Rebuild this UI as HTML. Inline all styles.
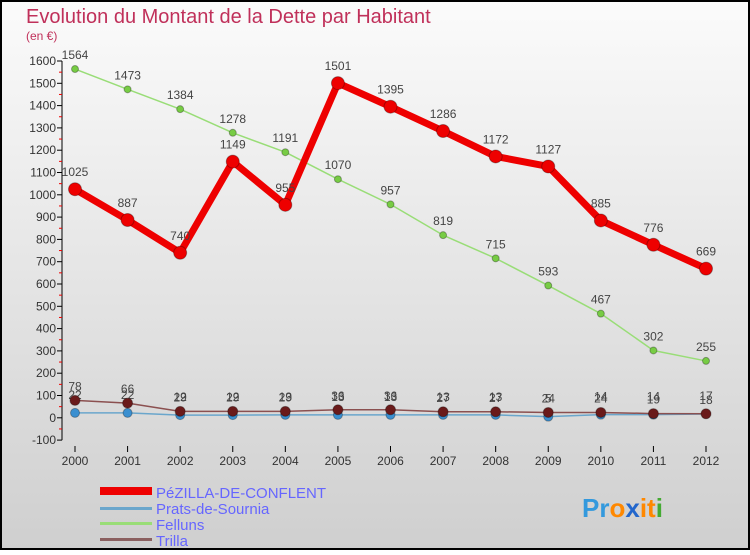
<!DOCTYPE html>
<html><head><meta charset="utf-8"><style>
body{margin:0;width:750px;height:550px;overflow:hidden;font-family:"Liberation Sans",sans-serif}
svg text{font-family:"Liberation Sans",sans-serif}
</style></head><body>
<svg id="c" width="750" height="550">
<defs><linearGradient id="bg" x1="0" y1="0" x2="0" y2="1"><stop offset="0" stop-color="#fbfbfb"/><stop offset="1" stop-color="#cfcfcf"/></linearGradient></defs>
<rect x="1" y="1" width="748" height="548" fill="url(#bg)" stroke="#000" stroke-width="2"/>
<text x="26" y="23" font-size="20" fill="#c0305a">Evolution du Montant de la Dette par Habitant</text>
<text x="26" y="40" font-size="12" fill="#c0305a">(en €)</text>
<g id="axes"></g><g id="series"></g>
<g>
<rect x="100" y="487" width="52" height="8" fill="#e00"/>
<text x="156" y="498" font-size="15" fill="#66f">PéZILLA-DE-CONFLENT</text>
<rect x="100" y="507" width="52" height="3" fill="#6aa6cc"/>
<text x="156" y="514" font-size="15" fill="#66f">Prats-de-Sournia</text>
<rect x="100" y="522" width="52" height="3" fill="#99dd77"/>
<text x="156" y="530" font-size="15" fill="#66f">Felluns</text>
<rect x="100" y="538" width="52" height="3" fill="#8b6060"/>
<text x="156" y="546" font-size="15" fill="#66f">Trilla</text>
</g>
<text x="582" y="517" font-size="26" font-weight="bold"><tspan fill="#3399dd">Pr</tspan><tspan fill="#ff8800">o</tspan><tspan fill="#2266cc">x</tspan><tspan fill="#ff8800">it</tspan><tspan fill="#44aa33">i</tspan></text>
</svg>
<script>
const years=[2000,2001,2002,2003,2004,2005,2006,2007,2008,2009,2010,2011,2012];
const pezilla=[1025,887,740,1149,955,1501,1395,1286,1172,1127,885,776,669];
const prats=[22,22,12,12,13,13,13,13,13,5,14,14,17];
const felluns=[1564,1473,1384,1278,1191,1070,957,819,715,593,467,302,255];
const trilla=[78,66,29,29,29,36,36,27,27,24,24,19,18];
const yTicks=[-100,0,100,200,300,400,500,600,700,800,900,1000,1100,1200,1300,1400,1500,1600];
const NS='http://www.w3.org/2000/svg';
const xs=i=>75+i*(706-75)/12;
const ys=v=>417.8-v*22.3/100;
function mk(tag,attrs,parent,txt){const e=document.createElementNS(NS,tag);for(const k in attrs)e.setAttribute(k,attrs[k]);if(txt!==undefined)e.textContent=txt;parent.appendChild(e);return e;}
const ax=document.getElementById('axes');
let a=mk('line',{x1:62,y1:ys(1600),x2:62,y2:ys(-100),stroke:'#000'},ax);

yTicks.forEach(t=>{
 mk('line',{x1:57,y1:ys(t),x2:62,y2:ys(t),stroke:'#000'},ax);
 if(t<1600){mk('line',{x1:59,y1:ys(t+50),x2:62,y2:ys(t+50),stroke:'#e00'},ax);}
 const l=mk('text',{x:56,y:ys(t)+4,'font-size':12,fill:'#333','text-anchor':'end'},ax,t);
 
 
});
years.forEach((yr,i)=>{
 mk('line',{x1:xs(i),y1:446,x2:xs(i),y2:452,stroke:'#000'},ax);
 const l=mk('text',{x:xs(i),y:465,'font-size':12,fill:'#333','text-anchor':'middle'},ax,yr);
 
 
});
const sg=document.getElementById('series');
function draw(name,vals,color,w,r,dot,lab){
 const g=mk('g',{},sg);
 
 
 const p=mk('polyline',{points:vals.map((v,i)=>xs(i)+','+ys(v)).join(' '),fill:'none',stroke:color,'stroke-width':w,'stroke-linejoin':'round'},g);
 
 
 vals.forEach((v,i)=>{
  const c=mk('circle',{cx:xs(i),cy:ys(v),r:r,fill:dot,stroke:'rgba(0,0,0,0.3)'},g);
  
  
  const t=mk('text',{x:xs(i),y:ys(v)-lab,'font-size':12,fill:'#444','text-anchor':'middle'},g,v);
  
  
 });
}
draw('felluns',felluns,'#99dd77',1.5,3.5,'#77cc44',10);
draw('prats',prats,'#6aa6cc',1.5,4.5,'#3a8fd0',14);
draw('trilla',trilla,'#8b5050',1.5,5,'#6a1a1a',10);
draw('pezilla',pezilla,'#ee0000',7,6.5,'#ee0000',13);
</script>
</body></html>
